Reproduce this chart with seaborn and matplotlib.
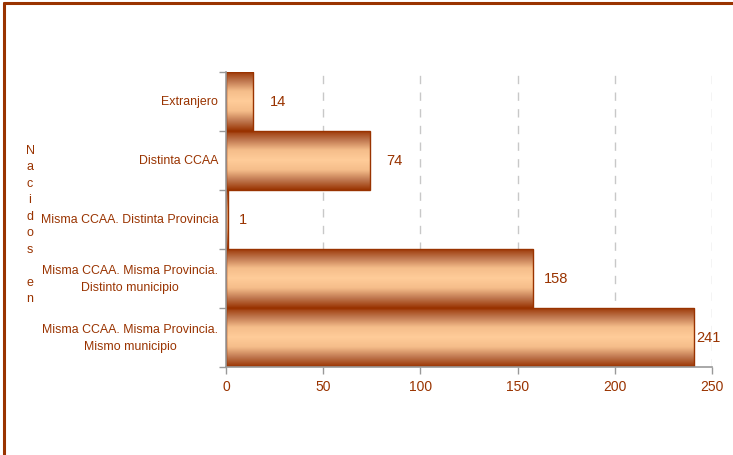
import numpy as np
import pandas as pd
import seaborn as sns
import matplotlib.pyplot as plt
from matplotlib.colors import LinearSegmentedColormap

# Data
categories = [
    "Extranjero",
    "Distinta CCAA",
    "Misma CCAA. Distinta Provincia",
    "Misma CCAA. Misma Provincia.\nDistinto municipio",
    "Misma CCAA. Misma Provincia.\nMismo municipio",
]
values = [14, 74, 1, 158, 241]
x_ticks = [0, 50, 100, 150, 200, 250]

brown = "#993300"
df = pd.DataFrame({"categoria": categories, "valor": values})

sns.set_style("white")
plt.rcParams["font.family"] = ["Liberation Sans", "DejaVu Sans"]

fig = plt.figure(figsize=(7.33, 4.56), dpi=100)
ax = fig.add_axes([0.3083, 0.193, 0.6630, 0.647])

sns.barplot(data=df, x="valor", y="categoria", orient="h", width=1.0,
            color=brown, ax=ax, zorder=2)

# cylinder-like shading on each bar
cmap = LinearSegmentedColormap.from_list(
    "cyl", [brown, "#c07850", "#f5bd8a", "#ffcc99", "#f5bd8a", "#c07850", brown])
grad = np.linspace(0, 1, 256).reshape(-1, 1)
for p in ax.patches:
    x0, y0 = p.get_x(), p.get_y()
    w, h = p.get_width(), p.get_height()
    im = ax.imshow(grad, cmap=cmap, aspect="auto", zorder=2.5,
                   extent=[x0, x0 + w, y0 + h, y0], interpolation="bicubic")
    im.set_clip_path(p)
    p.set_facecolor("none")
    p.set_edgecolor(brown)
    p.set_linewidth(1.0)
    p.set_zorder(3)

ax.set_xlim(0, 250)
ax.set_ylim(len(categories) - 0.5, -0.5)
ax.set_xticks(x_ticks)
ax.set_yticks(np.arange(len(categories) + 1) - 0.5, minor=False)
ax.set_yticklabels([])
ax.tick_params(axis="y", length=5, color="#999999", width=1)
ax.tick_params(axis="x", length=5, color="#999999", width=1,
               labelcolor=brown, labelsize=10, direction="out")
ax.xaxis.set_ticks_position("bottom")
ax.yaxis.set_ticks_position("left")

# category labels between the boundary ticks
for i, c in enumerate(categories):
    ax.text(-4, i, c, ha="right", va="center", multialignment="center",
            color=brown, fontsize=8.9, linespacing=1.55, transform=ax.transData)

ax.grid(axis="x", color="#c8c8c8", linestyle=(0, (6, 6)), linewidth=1, zorder=0)
ax.set_axisbelow(True)
for s in ["top", "right"]:
    ax.spines[s].set_visible(False)
for s in ["left", "bottom"]:
    ax.spines[s].set_color("#999999")
    ax.spines[s].set_linewidth(1.2)
    ax.spines[s].set_zorder(4)

offsets = [12, 12, 8, 8, 1]
for i, v in enumerate(values):
    ax.annotate(str(v), (v, i), xytext=(offsets[i], 0), textcoords="offset points",
                ha="left", va="center", color=brown, fontsize=10.5)

ax.set_xlabel("")
ax.set_ylabel("")
fig.text(0.041, 0.507, "\n".join("Nacidos en"), ha="center", va="center",
         color=brown, fontsize=9, linespacing=1.5)

# brown frame on top and left of the figure
fig.add_artist(plt.Line2D([0.005, 1.0], [0.991, 0.991], color=brown, lw=2.2,
                          transform=fig.transFigure))
fig.add_artist(plt.Line2D([0.005, 0.005], [0.0, 0.991], color=brown, lw=2.2,
                          transform=fig.transFigure))

fig.savefig("out.png", dpi=100)
